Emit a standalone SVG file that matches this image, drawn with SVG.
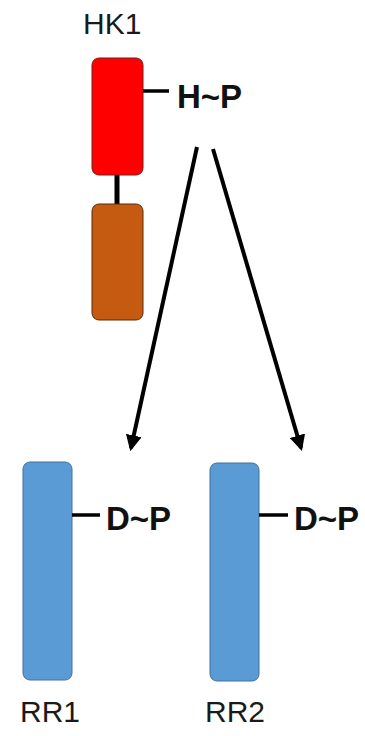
<svg xmlns="http://www.w3.org/2000/svg" width="365" height="736" viewBox="0 0 365 736">
<style>
.lbl{font-family:"Liberation Sans",Arial,sans-serif;font-size:30px;fill:#1a1a1a}
.site{font-family:"Liberation Sans",Arial,sans-serif;font-size:33px;font-weight:bold;fill:#111}
.tick{stroke:#000;stroke-width:3.5}
.arr{stroke:#000;stroke-width:4;fill:none}
</style>
<defs>
<marker id="ah" viewBox="0 0 10 10" refX="8" refY="5" markerWidth="4" markerHeight="4" orient="auto" markerUnits="strokeWidth">
<path d="M0,0 L10,5 L0,10 Z" fill="#000"/>
</marker>
</defs>
<rect width="365" height="736" fill="#fff"/>
<g id="HK1">
<text class="lbl" x="83" y="34">HK1</text>
<line x1="117" y1="174" x2="117" y2="206" stroke="#000" stroke-width="5"/>
<rect x="92" y="58" width="51" height="117" rx="7" fill="#FF0000" stroke="#7a1a1a" stroke-width="1"/>
<rect x="92" y="204" width="51" height="116" rx="7" fill="#C55A11" stroke="#5a2a08" stroke-width="1"/>
<line class="tick" x1="143" y1="91" x2="169" y2="91"/>
<text class="site" x="177" y="108">H~P</text>
</g>
<g id="RR1">
<rect x="23" y="462" width="49" height="218" rx="7" fill="#5B9BD5" stroke="#41719C" stroke-width="1"/>
<line class="tick" x1="72" y1="515" x2="100" y2="515"/>
<text class="site" x="106" y="530">D~P</text>
<text class="lbl" x="20" y="722">RR1</text>
</g>
<g id="RR2">
<rect x="210" y="463" width="49" height="218" rx="7" fill="#5B9BD5" stroke="#41719C" stroke-width="1"/>
<line class="tick" x1="259" y1="515" x2="288" y2="515"/>
<text class="site" x="294" y="530">D~P</text>
<text class="lbl" x="205" y="722">RR2</text>
</g>
<g id="connectors">
<line class="arr" x1="197" y1="147" x2="131" y2="448" marker-end="url(#ah)"/>
<line class="arr" x1="213" y1="149" x2="301" y2="448" marker-end="url(#ah)"/>
</g>
</svg>
